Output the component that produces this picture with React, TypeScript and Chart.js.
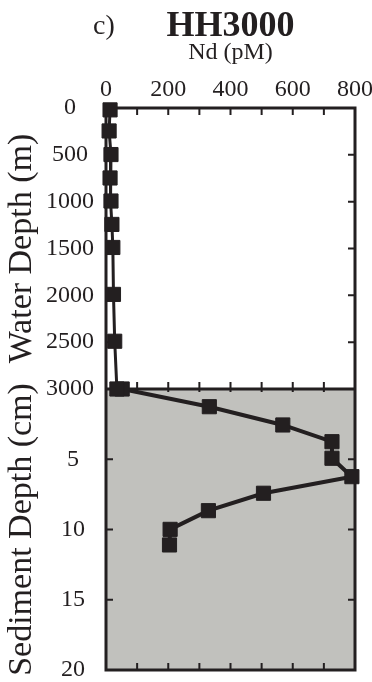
import React, { useEffect, useRef } from 'react';
import { Chart, registerables } from 'chart.js';

Chart.register(...registerables);

// Water column profile
const waterDepthM = [20, 245, 497, 747, 993, 1243, 1489, 1990, 2490, 3000];
const waterNd = [13, 10, 16, 13, 16, 19, 22, 24, 28, 35];

// Sediment pore water profile
const sedDepthCm = [0, 1.26, 2.56, 3.75, 4.93, 6.24, 7.42, 8.66, 9.99, 11.1];
const sedNd = [52, 332, 568, 726, 726, 790, 506, 329, 206, 204];

// Axis ranges / ticks
const ndRange = [0, 800];
const ndStep = 100;
const ndLabelStep = 200;
const waterRange = [0, 3000];
const waterStep = 500;
const sedRange = [0, 20];
const sedStep = 5;

const INK = '#231f20';
const SED_FILL = '#c1c1bd';
const SERIF = '"Liberation Serif", "Times New Roman", serif';

const framePlugin = {
  id: 'frame',
  beforeDatasetsDraw(chart: any) {
    const { ctx, chartArea: a, scales } = chart;
    const x = scales.x, yW = scales.yW, yS = scales.yS;
    ctx.save();
    ctx.fillStyle = SED_FILL;
    ctx.fillRect(a.left, yS.top, a.right - a.left, yS.bottom - yS.top);
    ctx.strokeStyle = INK;
    ctx.lineWidth = 3;
    ctx.strokeRect(a.left, a.top, a.right - a.left, a.bottom - a.top);
    ctx.beginPath();
    ctx.moveTo(a.left, yS.top);
    ctx.lineTo(a.right, yS.top);
    ctx.stroke();
    ctx.lineWidth = 2;
    const TL = 7;
    ctx.beginPath();
    x.ticks.forEach((t: any) => {
      if (t.value <= x.min || t.value >= x.max) return;
      const px = x.getPixelForValue(t.value);
      ctx.moveTo(px, a.top);
      ctx.lineTo(px, a.top + TL);
      ctx.moveTo(px, a.bottom);
      ctx.lineTo(px, a.bottom - TL);
      ctx.moveTo(px, yS.top + 3);
      ctx.lineTo(px, yS.top - TL);
    });
    [yW, yS].forEach((s: any) =>
      s.ticks.forEach((t: any) => {
        if (t.value <= s.min || t.value >= s.max) return;
        const py = s.getPixelForValue(t.value);
        ctx.moveTo(a.left, py);
        ctx.lineTo(a.left + TL, py);
        ctx.moveTo(a.right, py);
        ctx.lineTo(a.right - TL, py);
      })
    );
    ctx.stroke();
    ctx.restore();
  },
  afterDraw(chart: any) {
    const { ctx, chartArea: a } = chart;
    ctx.save();
    ctx.fillStyle = INK;
    ctx.textBaseline = 'alphabetic';
    ctx.textAlign = 'center';
    ctx.font = `bold 36px ${SERIF}`;
    const cx = (a.left + a.right) / 2;
    ctx.fillText('HH3000', cx, 36);
    ctx.textAlign = 'left';
    ctx.font = `28px ${SERIF}`;
    ctx.fillText('c)', 93, 34);
    ctx.restore();
  },
};

const noPadV = (s: any) => {
  s.width = 106;
  s.paddingTop = 0;
  s.paddingBottom = 0;
};

export default function App() {
  const ref = useRef<HTMLCanvasElement | null>(null);
  useEffect(() => {
    if (!ref.current) return;
    const tickFont = { family: SERIF, size: 24 };
    const chart = new Chart(ref.current, {
      type: 'scatter',
      data: {
        datasets: [
          {
            label: 'Water column',
            data: waterNd.map((v, i) => ({ x: v, y: waterDepthM[i] })),
            yAxisID: 'yW',
            showLine: true,
            borderColor: INK,
            backgroundColor: INK,
            borderWidth: 3,
            pointStyle: 'rect',
            pointRadius: 10,
            pointBorderWidth: 1,
            clip: false,
          } as any,
          {
            label: 'Sediment',
            data: sedNd.map((v, i) => ({ x: v, y: sedDepthCm[i] })),
            yAxisID: 'yS',
            showLine: true,
            borderColor: INK,
            backgroundColor: INK,
            borderWidth: 4,
            pointStyle: 'rect',
            pointRadius: 10,
            pointBorderWidth: 1,
            clip: false,
          } as any,
        ],
      },
      options: {
        animation: false,
        responsive: true,
        maintainAspectRatio: false,
        layout: { padding: { top: 38, right: 17, bottom: 12, left: 0 } },
        plugins: { legend: { display: false }, tooltip: { enabled: false } },
        scales: {
          x: {
            type: 'linear',
            position: 'top',
            min: ndRange[0],
            max: ndRange[1],
            grid: { display: false, drawTicks: false },
            border: { display: false },
            ticks: {
              stepSize: ndStep,
              autoSkip: false,
              maxRotation: 0,
              padding: 4,
              color: INK,
              font: tickFont,
              callback: (v: any) => (Number(v) % ndLabelStep === 0 ? String(v) : ''),
            },
            title: {
              display: true,
              text: 'Nd (pM)',
              color: INK,
              font: { family: SERIF, size: 24 },
              padding: { top: 0, bottom: 0 },
            },
            afterFit: (s: any) => {
              s.height = 70;
              s.paddingLeft = 0;
              s.paddingRight = 0;
            },
          },
          yS: {
            type: 'linear',
            position: 'left',
            stack: 'depth',
            stackWeight: 1,
            reverse: true,
            min: sedRange[0],
            max: sedRange[1],
            grid: { display: false, drawTicks: false },
            border: { display: false },
            ticks: {
              stepSize: sedStep,
              autoSkip: false,
              crossAlign: 'center',
              padding: 21,
              color: INK,
              font: tickFont,
              callback: (v: any) => (Number(v) === 0 ? '' : String(v)),
            },
            title: {
              display: true,
              text: 'Sediment Depth (cm)',
              color: INK,
              font: { family: SERIF, size: 34 },
              padding: { top: 2, bottom: 0 },
            },
            afterFit: noPadV,
          },
          yW: {
            type: 'linear',
            position: 'left',
            stack: 'depth',
            stackWeight: 1,
            reverse: true,
            min: waterRange[0],
            max: waterRange[1],
            grid: { display: false, drawTicks: false },
            border: { display: false },
            ticks: {
              stepSize: waterStep,
              autoSkip: false,
              crossAlign: 'center',
              padding: 12,
              color: INK,
              font: tickFont,
              callback: (v: any) => String(v),
            },
            title: {
              display: true,
              text: 'Water Depth (m)',
              color: INK,
              font: { family: SERIF, size: 34 },
              padding: { top: 2, bottom: 0 },
            },
            afterFit: noPadV,
          },
        } as any,
      },
      plugins: [framePlugin as any],
    });
    return () => chart.destroy();
  }, []);
  return (
    <div style={{ position: 'fixed', left: 0, top: 0, width: 372, height: 682, background: '#fff' }}>
      <canvas ref={ref} />
    </div>
  );
}
